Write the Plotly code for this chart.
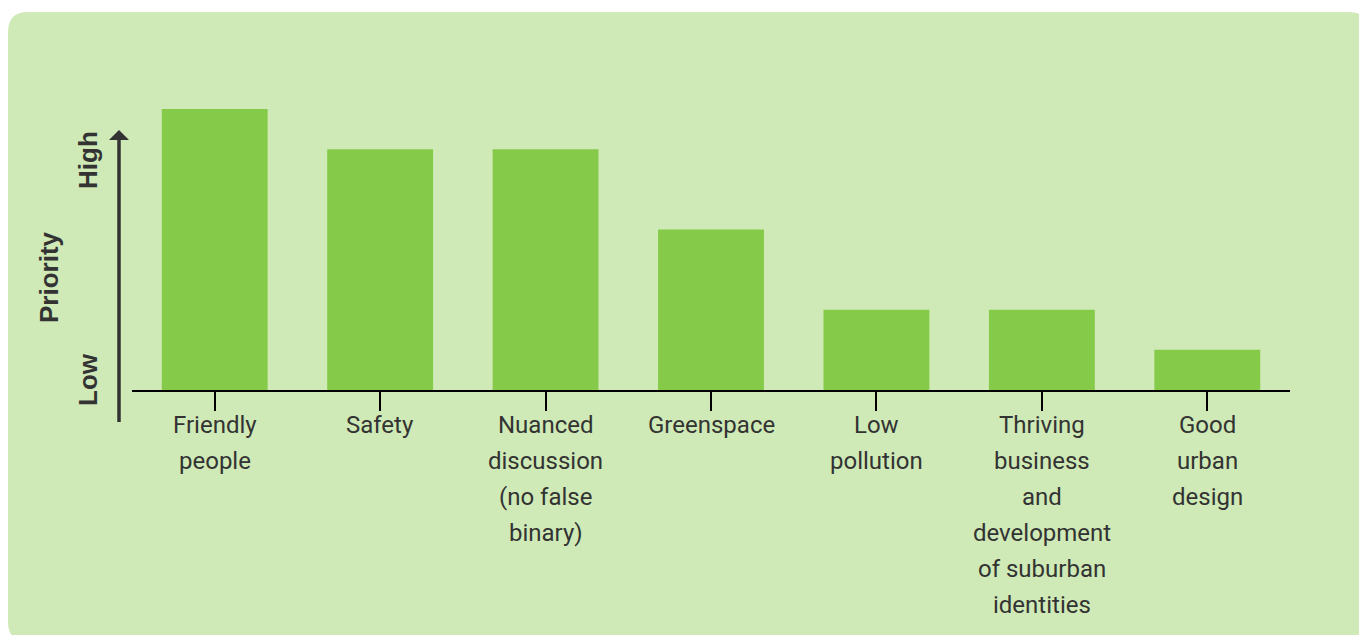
import plotly.graph_objects as go

# ---- data ----
categories = ["Friendly people", "Safety", "Nuanced discussion (no false binary)",
              "Greenspace", "Low pollution",
              "Thriving business and development of suburban identities",
              "Good urban design"]
priority = [7, 6, 6, 4, 2, 2, 1]
tick_lines = [["Friendly", "people"],
              ["Safety"],
              ["Nuanced", "discussion", "(no false", "binary)"],
              ["Greenspace"],
              ["Low", "pollution"],
              ["Thriving", "business", "and", "development", "of suburban", "identities"],
              ["Good", "urban", "design"]]
axis_title = "Priority"
axis_high = "High"
axis_low = "Low"

# ---- layout geometry (page pixels; body margin removed below) ----
W, H = 1359, 635
ML, MR, MT, MB = 132, 69, 89, 245
PW = W - ML - MR
PH = H - MT - MB
BASE = H - MB  # page y of x-axis


def px(x):
    return (x - ML) / PW


def py(y):
    return (BASE - y) / PH


BG = "#cfeab6"
BAR = "#86ca4a"
TXT = "#333333"

fig = go.Figure()
fig.add_trace(go.Bar(x=categories, y=priority, marker=dict(color=BAR, line=dict(width=0)),
                     width=0.64, hoverinfo="skip"))

shapes = []
# rounded panel background
x0, x1, y0, y1, r = 8, 1369, 12, 642, 20
path = (f"M {px(x0+r)},{py(y0)} L {px(x1-r)},{py(y0)} "
        f"Q {px(x1)},{py(y0)} {px(x1)},{py(y0+r)} "
        f"L {px(x1)},{py(y1-r)} Q {px(x1)},{py(y1)} {px(x1-r)},{py(y1)} "
        f"L {px(x0+r)},{py(y1)} Q {px(x0)},{py(y1)} {px(x0)},{py(y1-r)} "
        f"L {px(x0)},{py(y0+r)} Q {px(x0)},{py(y0)} {px(x0+r)},{py(y0)} Z")
shapes.append(dict(type="path", xref="paper", yref="paper", path=path,
                   fillcolor=BG, line=dict(width=0), layer="below"))
# vertical arrow
ax = 119
shapes.append(dict(type="line", xref="paper", yref="paper",
                   x0=px(ax), x1=px(ax), y0=py(422), y1=py(138),
                   line=dict(color=TXT, width=3.5)))
tri = (f"M {px(ax)},{py(130)} L {px(ax-10)},{py(140)} L {px(ax+10)},{py(140)} Z")
shapes.append(dict(type="path", xref="paper", yref="paper", path=tri,
                   fillcolor=TXT, line=dict(width=0)))

annotations = []
for cat, lines in zip(categories, tick_lines):
    for i, ln in enumerate(lines):
        annotations.append(dict(x=cat, xref="x", y=0, yref="paper",
                                yshift=-(425 + 36 * i - BASE), yanchor="middle",
                                xanchor="center", text=ln, showarrow=False,
                                font=dict(family="Roboto", size=24, color=TXT)))

for txt, cx, cy in [(axis_high, 88, 160), (axis_low, 88, 380), (axis_title, 49, 277)]:
    annotations.append(dict(x=px(cx), y=py(cy), xref="paper", yref="paper",
                            text=f"<b>{txt}</b>", textangle=-90, showarrow=False,
                            xanchor="center", yanchor="middle",
                            font=dict(family="Arial", size=26, color=TXT)))

fig.update_layout(
    width=W, height=H,
    margin=dict(l=ML, r=MR, t=MT, b=MB, autoexpand=False),
    paper_bgcolor="white", plot_bgcolor="rgba(0,0,0,0)",
    showlegend=False,
    shapes=shapes, annotations=annotations,
    xaxis=dict(range=[-0.5, 6.5], showgrid=False, zeroline=False,
               showline=True, linecolor="black", linewidth=2,
               ticks="outside", ticklen=19, tickwidth=2, tickcolor="black",
               showticklabels=False, fixedrange=True),
    yaxis=dict(range=[0, 7.5], showgrid=False, zeroline=False, showline=False,
               showticklabels=False, ticks="", fixedrange=True),
)

fig.write_html("out.html", config={"displayModeBar": False},
               post_script="document.body.style.margin='0';"
                           "document.body.style.overflow='hidden';"
                           "document.documentElement.style.overflow='hidden';")
